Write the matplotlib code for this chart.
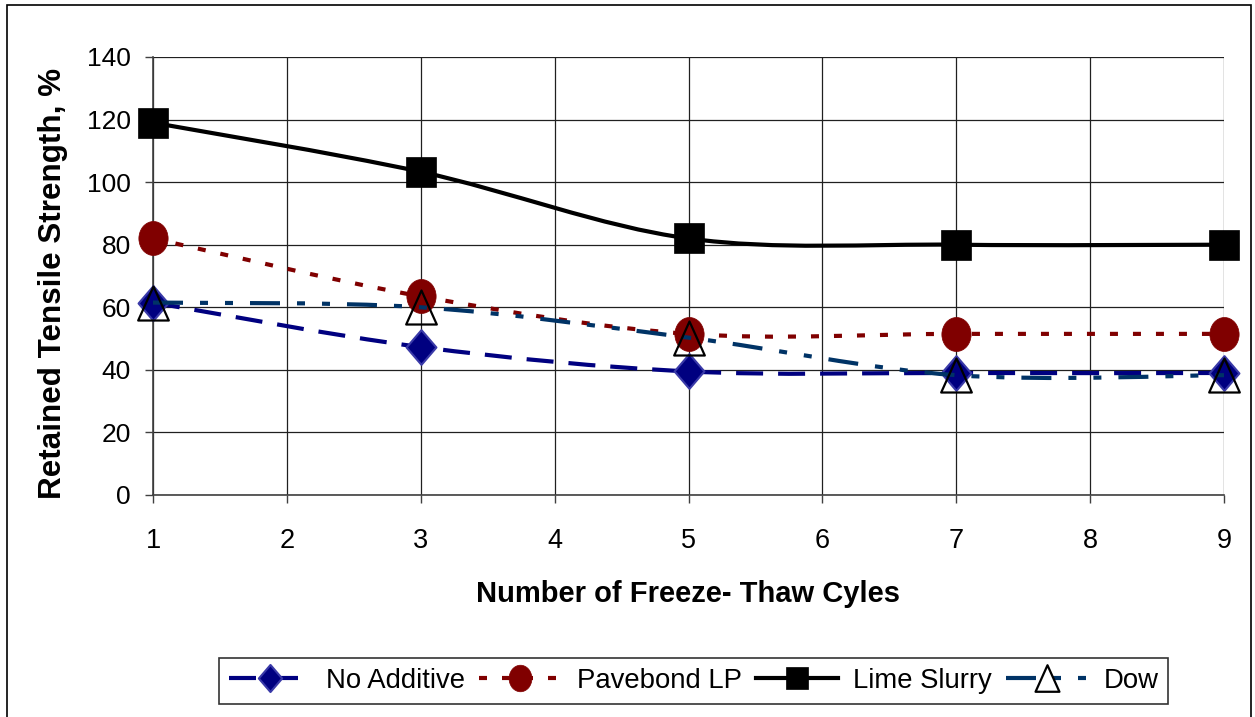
import matplotlib
matplotlib.use("Agg")
import matplotlib.pyplot as plt
from matplotlib.path import Path
from matplotlib.patches import PathPatch, Rectangle
from matplotlib.lines import Line2D
import numpy as np

plt.rcParams['font.family'] = ['Liberation Sans', 'DejaVu Sans']
plt.rcParams['lines.scale_dashes'] = False

cycles = [1, 3, 5, 7, 9]
no_additive = [61.5, 47.3, 39.5, 39.0, 39.0]
pavebond_lp = [82.0, 63.5, 51.5, 51.5, 51.5]
lime_slurry = [119.0, 103.3, 82.0, 80.0, 80.0]
dow = [61.5, 60.0, 50.3, 38.3, 38.3]

series_names = ["No Additive", "Pavebond LP", "Lime Slurry", "Dow"]
x_ticks = [1, 2, 3, 4, 5, 6, 7, 8, 9]
y_ticks = [0, 20, 40, 60, 80, 100, 120, 140]
x_label = "Number of Freeze- Thaw Cyles"
y_label = "Retained Tensile Strength, %"

W, H = 1255, 717
fig = plt.figure(figsize=(W / 100, H / 100), dpi=100)
ax = fig.add_axes([153 / W, 1 - 495 / H, (1224 - 153) / W, (495 - 57) / H])

# outer chart border
fig.patches.append(Rectangle((7 / W, -0.02), (1251 - 7) / W, 0.02 + 1 - 5 / H,
                             transform=fig.transFigure, fill=False,
                             edgecolor='black', linewidth=1.2))


def smooth_path(xs, ys):
    pts = np.column_stack([xs, ys]).astype(float)
    n = len(pts)
    verts = [pts[0]]
    codes = [Path.MOVETO]
    for i in range(n - 1):
        p0 = pts[i - 1] if i > 0 else pts[i]
        p1 = pts[i]
        p2 = pts[i + 1]
        p3 = pts[i + 2] if i + 2 < n else pts[i + 1]
        c1 = p1 + (p2 - p0) / 6.0
        c2 = p2 - (p3 - p1) / 6.0
        verts += [c1, c2, p2]
        codes += [Path.CURVE4] * 3
    return Path(verts, codes)


px = 0.72  # points per pixel
ell = Path.unit_circle()
ell = Path(ell.vertices * np.array([0.86, 1.0]), ell.codes)
diamond = Path([(0, 1), (0.86, 0), (0, -1), (-0.86, 0), (0, 1)],
               [Path.MOVETO, Path.LINETO, Path.LINETO, Path.LINETO, Path.CLOSEPOLY])
tri = Path([(0, 1), (0.9, -1), (-0.9, -1), (0, 1)],
           [Path.MOVETO, Path.LINETO, Path.LINETO, Path.CLOSEPOLY])

styles = [
    dict(data=no_additive, color='#000080', dash=(0, (27 * px, 15 * px)),
         marker=diamond, ms=25, mfc='#000080', mec='#3a3aa8', mew=1.5),
    dict(data=pavebond_lp, color='#800000', dash=(0, (8 * px, 15 * px)),
         marker=ell, ms=24.5, mfc='#800000', mec='#800000', mew=0.5),
    dict(data=lime_slurry, color='black', dash='solid',
         marker='s', ms=21, mfc='black', mec='black', mew=0.5),
    dict(data=dow, color='#003366',
         dash=(0, (30 * px, 17 * px, 8 * px, 17 * px, 8 * px, 17 * px)),
         marker=tri, ms=24.5, mfc='none', mec='black', mew=1.6),
]

lw = 3.0
handles = []
for i, (st, name) in enumerate(zip(styles, series_names)):
    patch = PathPatch(smooth_path(cycles, st['data']), fill=False,
                      edgecolor=st['color'], linewidth=lw,
                      linestyle=st['dash'], capstyle='butt',
                      zorder=3 + 2 * i, clip_on=False)
    ax.add_patch(patch)
    ax.plot(cycles, st['data'], linestyle='none', marker=st['marker'],
            markersize=st['ms'], markerfacecolor=st['mfc'],
            markeredgecolor=st['mec'], markeredgewidth=st['mew'],
            zorder=4 + 2 * i, clip_on=False)
    handles.append(Line2D([], [], color=st['color'], linewidth=lw,
                          linestyle=st['dash'], dash_capstyle='butt',
                          marker=st['marker'], markersize=st['ms'],
                          markerfacecolor=st['mfc'], markeredgecolor=st['mec'],
                          markeredgewidth=st['mew']))

ax.set_xlim(1, 9)
ax.set_ylim(0, 140)
ax.set_xticks(x_ticks)
ax.set_yticks(y_ticks)
ax.grid(True, color='#202020', linewidth=0.9)
ax.set_axisbelow(True)
for s in ['top', 'right']:
    ax.spines[s].set_visible(False)
for s in ['left', 'bottom']:
    ax.spines[s].set_color('#404040')
    ax.spines[s].set_linewidth(1.2)
ax.tick_params(axis='both', direction='out', length=6, width=1, color='#404040',
               labelsize=19)
ax.tick_params(axis='x', labelsize=19.5)
ax.tick_params(axis='y', pad=10)
ax.tick_params(axis='x', pad=18)

ax.set_xlabel(x_label, fontsize=21, fontweight='bold')
ax.xaxis.set_label_coords(0.5, -0.194)
ax.set_ylabel(y_label, fontsize=22.6, fontweight='bold')
ax.yaxis.set_label_coords(-0.079, 0.484)

leg = fig.legend(handles, series_names, ncol=4, loc='center',
                 bbox_to_anchor=((212 + 1175) / 2 / W, 1 - 681 / H),
                 bbox_transform=fig.transFigure, fontsize=19.8,
                 frameon=True, fancybox=False, edgecolor='black',
                 markerscale=0.78, handlelength=3.0, handletextpad=0.55,
                 columnspacing=0.5, borderpad=0.35, borderaxespad=0.0)
leg.get_frame().set_linewidth(1.2)

fig.savefig("out.png", dpi=100, facecolor='white')
